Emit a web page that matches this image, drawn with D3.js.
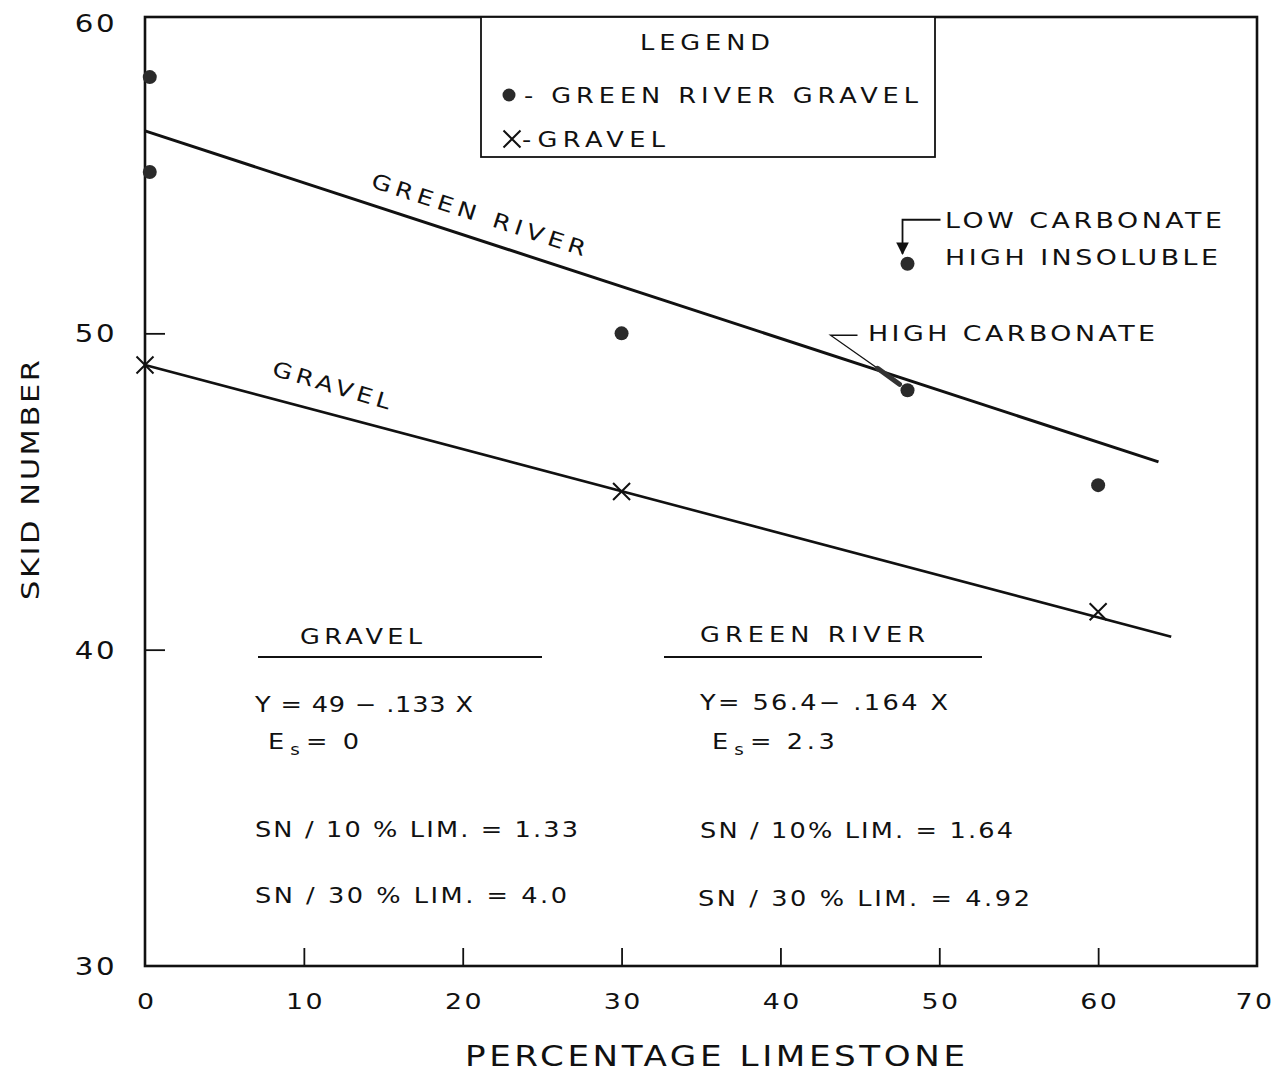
<!DOCTYPE html>
<html>
<head>
<meta charset="utf-8">
<script src="https://cdn.jsdelivr.net/npm/d3@7"></script>
<style>
  html, body { margin: 0; padding: 0; background: #fff; }
  svg { display: block; }
  text { font-family: "DejaVu Sans", "Liberation Sans", sans-serif; fill: #111; }
</style>
</head>
<body>
<svg id="chart" width="1280" height="1074"></svg>
<script>
// Skid number vs. percentage limestone
const xTicks = [0, 10, 20, 30, 40, 50, 60, 70];
const yTicks = [30, 40, 50, 60];

// Green River gravel blends (dots)
const greenX = [0.3, 0.3, 30, 48, 48, 60];
const greenY = [58.1, 55.1, 50.0, 52.2, 48.2, 45.2];

// Plain gravel blends (crosses)
const gravelX = [0, 30, 60];
const gravelY = [49.0, 45.0, 41.2];

// Regression lines: Y = a + b X
const fitNames = ["GREEN RIVER", "GRAVEL"];
const fitIntercepts = [56.4, 49.0];
const fitSlopes = [-0.164, -0.133];
const fitXEnd = [63.8, 64.6];

const svg = d3.select("#chart");
const x = d3.scaleLinear().domain([0, 70]).range([145, 1257]);
const y = d3.scaleLinear().domain([30, 60]).range([966, 17]);
const ink = "#111";
const SX = 1.22;   // wide drafting-style lettering

// Text helper: horizontally widened lettering fitted to a given length
function label(xp, yp, str, len, size, rot) {
  const g = svg.append("g")
    .attr("transform", `translate(${xp},${yp})` + (rot ? ` rotate(${rot})` : "") + ` scale(${SX},1)`);
  const t = g.append("text").attr("font-size", size || 21);
  if (len) t.attr("textLength", len / SX).attr("lengthAdjust", "spacing");
  t.text(str);
  return t;
}

// Frame
svg.append("rect")
  .attr("x", x(0)).attr("y", y(60))
  .attr("width", x(70) - x(0)).attr("height", y(30) - y(60))
  .attr("fill", "none").attr("stroke", ink).attr("stroke-width", 2.6);

// X axis: ticks pointing inward, labels below
const xAxis = d3.axisBottom(x).tickValues(xTicks).tickSize(-18).tickPadding(27)
  .tickFormat(d3.format("d"));
const gx = svg.append("g").attr("transform", `translate(0,${y(30)})`).call(xAxis);
gx.select(".domain").remove();
gx.selectAll(".tick line").attr("stroke", ink).attr("stroke-width", 1.8)
  .filter(d => d === 0 || d === 70).remove();
gx.selectAll(".tick text").attr("font-size", 22).attr("letter-spacing", 2)
  .attr("x", d => d === 70 ? -2 : 1).attr("transform", `scale(${SX},1)`).attr("fill", ink);

// Y axis: ticks pointing inward, labels to the left
const yAxis = d3.axisLeft(y).tickValues(yTicks).tickSize(-20).tickPadding(28)
  .tickFormat(d3.format("d"));
const gy = svg.append("g").attr("transform", `translate(${x(0)},0)`).call(yAxis);
gy.select(".domain").remove();
gy.selectAll(".tick line").attr("stroke", ink).attr("stroke-width", 1.8)
  .filter(d => d === 30 || d === 60).remove();
gy.selectAll(".tick text").attr("font-size", 24).attr("letter-spacing", 2).attr("fill", ink)
  .attr("x", -28 / SX).attr("transform", `scale(${SX},1)`)
  .attr("dy", d => d === 60 ? "0.6em" : "0.35em");

// Axis titles
label(465, 1066, "PERCENTAGE LIMESTONE", 500, 28);
svg.append("g").attr("transform", "translate(39,600) rotate(-90)")
  .append("text").attr("font-size", 25)
  .attr("transform", `scale(${SX},1)`)
  .attr("textLength", 240 / SX).attr("lengthAdjust", "spacing")
  .text("SKID NUMBER");

// Regression lines
const line = d3.line().x(d => x(d[0])).y(d => y(d[1]));
fitNames.forEach((n, i) => {
  const pts = [[0, fitIntercepts[i]], [fitXEnd[i], fitIntercepts[i] + fitSlopes[i] * fitXEnd[i]]];
  svg.append("path").attr("d", line(pts)).attr("fill", "none")
    .attr("stroke", ink).attr("stroke-width", i === 0 ? 3 : 2.6);
});

// Line labels, written along each line
label(370, 187, "GREEN RIVER", 224, 21, 18);
label(271, 375, "GRAVEL", 122, 21, 16.5);

// Green River points
svg.append("g").selectAll("circle").data(greenX.map((v, i) => [v, greenY[i]]))
  .join("circle").attr("cx", d => x(d[0])).attr("cy", d => y(d[1])).attr("r", 7)
  .attr("fill", "#2a2a2a");

// Gravel points (crosses)
const cross = d3.symbol().type(d3.symbolX).size(190);
svg.append("g").selectAll("path").data(gravelX.map((v, i) => [v, gravelY[i]]))
  .join("path").attr("d", cross)
  .attr("transform", d => `translate(${x(d[0])},${y(d[1])})`)
  .attr("fill", "none").attr("stroke", ink).attr("stroke-width", 2);

// Legend
svg.append("rect").attr("x", 481).attr("y", y(60)).attr("width", 935 - 481).attr("height", 157 - y(60))
  .attr("fill", "#fff").attr("stroke", ink).attr("stroke-width", 1.8);
label(640, 50, "LEGEND", 130, 21);
svg.append("circle").attr("cx", 509).attr("cy", 95).attr("r", 6.5).attr("fill", "#2a2a2a");
label(524, 103, "- GREEN RIVER GRAVEL", 394, 21);
svg.append("path").attr("d", cross).attr("transform", "translate(512,139)")
  .attr("fill", "none").attr("stroke", ink).attr("stroke-width", 2);
label(522, 147, "-GRAVEL", 143, 21);

// Arrow marker for annotation leaders
svg.append("defs").append("marker").attr("id", "arrow")
  .attr("viewBox", "0 0 10 10").attr("refX", 9).attr("refY", 5)
  .attr("markerWidth", 7).attr("markerHeight", 9).attr("orient", "auto-start-reverse")
  .append("path").attr("d", "M0,0 L10,5 L0,10 Z").attr("fill", ink);

// Low carbonate / high insoluble point annotation
const pLow = [x(greenX[3]), y(greenY[3])];
svg.append("path")
  .attr("d", `M${pLow[0] + 33},${pLow[1] - 44} H${pLow[0] - 5} V${pLow[1] - 10}`)
  .attr("fill", "none").attr("stroke", ink).attr("stroke-width", 1.8)
  .attr("marker-end", "url(#arrow)");
label(945, 228, "LOW CARBONATE", 277, 22);
label(945, 265, "HIGH INSOLUBLE", 273, 22);

// High carbonate point annotation
const pHigh = [x(greenX[4]), y(greenY[4])];
svg.append("path")
  .attr("d", `M${pHigh[0] - 50},${pHigh[1] - 55} H${pHigh[0] - 77} L${pHigh[0] - 30},${pHigh[1] - 22}`)
  .attr("fill", "none").attr("stroke", ink).attr("stroke-width", 1.3);
svg.append("path")
  .attr("d", `M${pHigh[0] - 30},${pHigh[1] - 22} L${pHigh[0] - 8},${pHigh[1] - 6}`)
  .attr("fill", "none").attr("stroke", "#333").attr("stroke-width", 5)
  .attr("stroke-linecap", "round");
label(868, 341, "HIGH CARBONATE", 287, 22);

// Regression summaries
function esLabel(xp, yp, value) {
  const g = svg.append("g").attr("transform", `translate(${xp},${yp}) scale(${SX},1)`);
  const t = g.append("text").attr("font-size", 21);
  t.append("tspan").text("E");
  t.append("tspan").attr("dx", 5).attr("dy", 6).attr("font-size", 15).text("s");
  t.append("tspan").attr("dx", 5).attr("dy", -6).attr("letter-spacing", 3).text("= " + value);
}

label(300, 644, "GRAVEL", 122);
svg.append("line").attr("x1", 258).attr("x2", 542).attr("y1", 657).attr("y2", 657)
  .attr("stroke", ink).attr("stroke-width", 2.2);
label(255, 712, "Y = 49 \u2212 .133 X", 218);
esLabel(268, 749, "0");
label(255, 837, "SN / 10 % LIM. = 1.33", 323);
label(255, 903, "SN / 30 % LIM. = 4.0", 312);

label(700, 642, "GREEN RIVER", 225);
svg.append("line").attr("x1", 664).attr("x2", 982).attr("y1", 657).attr("y2", 657)
  .attr("stroke", ink).attr("stroke-width", 2.2);
label(700, 710, "Y= 56.4\u2212 .164 X", 248);
esLabel(712, 749, "2.3");
label(700, 838, "SN / 10% LIM. = 1.64", 313);
label(698, 906, "SN / 30 % LIM. = 4.92", 332);
</script>
</body>
</html>
